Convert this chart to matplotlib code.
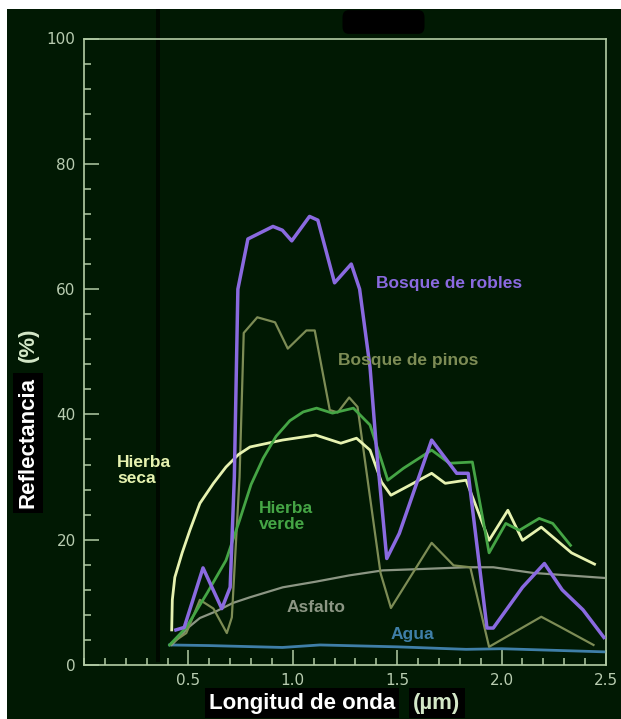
import matplotlib
matplotlib.use("Agg")
import matplotlib.pyplot as plt
from matplotlib.patches import Rectangle, FancyBboxPatch
import matplotlib.transforms as mtransforms
from matplotlib.ticker import MultipleLocator, FixedLocator

# ---------------- data ----------------
robles_x = [0.44, 0.48, 0.57, 0.66, 0.70, 0.72, 0.737, 0.785, 0.905, 0.95, 0.995, 1.08, 1.12,
            1.20, 1.28, 1.32, 1.37, 1.40, 1.45, 1.51, 1.665, 1.785, 1.84, 1.93, 1.96, 2.10,
            2.205, 2.29, 2.39, 2.49]
robles_y = [5.6, 6.0, 15.5, 9.0, 12.4, 30.0, 60.0, 68.0, 70.0, 69.4, 67.7, 71.6, 71.0,
            61.0, 64.0, 60.0, 47.5, 34.8, 17.0, 21.0, 35.9, 30.6, 30.6, 5.9, 5.9, 12.4,
            16.2, 12.0, 8.8, 4.4]

pinos_x = [0.42, 0.49, 0.555, 0.62, 0.684, 0.708, 0.745, 0.765, 0.83, 0.915, 0.976, 1.065, 1.105,
           1.177, 1.215, 1.27, 1.31, 1.42, 1.47, 1.665, 1.77, 1.85, 1.94, 2.19, 2.28, 2.44]
pinos_y = [3.5, 5.1, 10.4, 9.0, 5.1, 7.6, 30.0, 53.0, 55.5, 54.7, 50.5, 53.4, 53.4,
           40.7, 40.3, 42.7, 41.2, 14.7, 9.1, 19.5, 15.9, 15.6, 2.9, 7.7, 6.1, 3.2]

verde_x = [0.41, 0.49, 0.59, 0.68, 0.745, 0.80, 0.858, 0.92, 0.986, 1.05, 1.114, 1.19, 1.29,
           1.37, 1.455, 1.53, 1.665, 1.75, 1.86, 1.94, 2.02, 2.085, 2.18, 2.245, 2.33]
verde_y = [3.2, 6.0, 11.5, 16.7, 23.1, 28.8, 33.0, 36.5, 39.0, 40.4, 41.0, 40.2, 41.0,
           38.3, 29.5, 31.4, 34.3, 32.2, 32.4, 17.9, 22.6, 21.5, 23.4, 22.6, 19.1]

seca_x = [0.42, 0.423, 0.435, 0.47, 0.507, 0.555, 0.62, 0.68, 0.74, 0.795, 0.95, 1.11, 1.23,
          1.305, 1.37, 1.425, 1.47, 1.56, 1.665, 1.73, 1.83, 1.94, 2.03, 2.10, 2.19, 2.335,
          2.445]
seca_y = [5.6, 10.4, 14.0, 17.9, 21.5, 25.8, 29.0, 31.6, 33.6, 34.8, 35.9, 36.7, 35.4,
          36.2, 34.3, 29.2, 27.1, 28.7, 30.6, 29.0, 29.5, 19.9, 24.7, 19.9, 22.0, 17.9,
          16.1]

asfalto_x = [0.42, 0.50, 0.555, 0.635, 0.713, 0.794, 0.952, 1.11, 1.27, 1.43, 1.60, 1.83, 1.96,
             2.15, 2.49]
asfalto_y = [3.2, 6.0, 7.5, 8.6, 9.9, 10.8, 12.4, 13.3, 14.3, 15.1, 15.3, 15.6, 15.6,
             14.7, 13.9]

agua_x = [0.41, 0.60, 0.95, 1.13, 1.50, 1.83, 2.00, 2.49]
agua_y = [3.2, 3.1, 2.8, 3.2, 2.9, 2.5, 2.6, 2.1]

x_ticks = [0.5, 1.0, 1.5, 2.0, 2.5]
x_ticklabels = ["0.5", "1.0", "1.5", "2.0", "2.5"]
y_ticks = [0, 20, 40, 60, 80, 100]
y_ticklabels = ["0", "20", "40", "60", "80", "100"]

# ---------------- style ----------------
BG = "#011903"
FRAME = "#b3cca6"
TICKC = "#b8ccb0"
C_ROBLES = "#8a6ae0"
C_PINOS = "#7d8c55"
C_VERDE = "#45a545"
C_SECA = "#e6f2b0"
C_ASF = "#8c9684"
C_AGUA = "#3f7fa8"

W, H = 621, 719
fig = plt.figure(figsize=(W / 100, H / 100), dpi=100, facecolor=BG)

# white margins at top and left
fig.patches.append(Rectangle((0, 1 - 9 / H), 1, 9 / H, transform=fig.transFigure,
                             facecolor="white", edgecolor="none", zorder=0))
fig.patches.append(Rectangle((0, 0), 7 / W, 1, transform=fig.transFigure,
                             facecolor="white", edgecolor="none", zorder=0))
# black rounded blob at top
fig.patches.append(FancyBboxPatch((345 / W, 1 - 31 / H), 77 / W, 18 / H,
                                  boxstyle="round,pad=0.004,rounding_size=0.01",
                                  transform=fig.transFigure, facecolor="black",
                                  edgecolor="none", zorder=0.5))

x0, x1 = 84, 606
y0, y1 = 665, 38.5
ax = fig.add_axes([x0 / W, 1 - y0 / H, (x1 - x0) / W, (y0 - y1) / H])
ax.set_facecolor(BG)
ax.set_xlim(0, 2.5)
ax.set_ylim(0, 100)

# dark vertical band artifact
trans = mtransforms.blended_transform_factory(ax.transData, fig.transFigure)
ax.plot([0.354, 0.354], [1 - 662 / H, 1 - 9 / H], transform=trans, clip_on=False,
        color="#000900", lw=2.8, zorder=0.5, solid_capstyle="butt")

ax.plot(agua_x, agua_y, color=C_AGUA, lw=2.0, zorder=3)
ax.plot(asfalto_x, asfalto_y, color=C_ASF, lw=1.6, zorder=3)
ax.plot(pinos_x, pinos_y, color=C_PINOS, lw=1.6, zorder=3)
ax.plot(seca_x, seca_y, color=C_SECA, lw=2.0, zorder=4)
ax.plot(verde_x, verde_y, color=C_VERDE, lw=2.0, zorder=4)
ax.plot(robles_x, robles_y, color=C_ROBLES, lw=2.5, zorder=5)

for s in ax.spines.values():
    s.set_color(FRAME)
    s.set_linewidth(1.2)

ax.xaxis.set_major_locator(FixedLocator(x_ticks))
ax.set_xticklabels(x_ticklabels)
ax.xaxis.set_minor_locator(MultipleLocator(0.1))
ax.yaxis.set_major_locator(FixedLocator(y_ticks))
ax.set_yticklabels(y_ticklabels)
ax.yaxis.set_minor_locator(MultipleLocator(4))
ax.tick_params(which="both", direction="in", color=FRAME, width=1.1,
               top=False, right=False)
ax.tick_params(which="major", length=10.5, labelsize=11, labelcolor=TICKC, pad=6)
ax.tick_params(which="minor", length=5)
for lab in ax.get_xticklabels() + ax.get_yticklabels():
    lab.set_family("DejaVu Sans")

lab_font = dict(family="Liberation Sans", weight="bold", fontsize=12.5, zorder=6)
ax.text(1.40, 60.9, "Bosque de robles", color=C_ROBLES, va="center", ha="left", **lab_font)
ax.text(1.215, 48.6, "Bosque de pinos", color=C_PINOS, va="center", ha="left", **lab_font)
ax.text(0.158, 31.0, "Hierba\nseca", color=C_SECA, va="center", ha="left",
        linespacing=1.1, **lab_font)
ax.text(0.837, 23.7, "Hierba\nverde", color=C_VERDE, va="center", ha="left",
        linespacing=1.1, **lab_font)
ax.text(0.971, 9.25, "Asfalto", color=C_ASF, va="center", ha="left", **lab_font)
ax.text(1.469, 4.8, "Agua", color=C_AGUA, va="center", ha="left", **lab_font)

axis_font = dict(family="Liberation Sans", weight="bold", fontsize=16)
fig.text(302 / W, 1 - 703 / H, "Longitud de onda", color="white", ha="center", va="center",
         bbox=dict(facecolor="black", edgecolor="none", pad=3), **axis_font)
fig.text(437 / W, 1 - 703 / H, "(µm)", color="#d4e8c8", ha="center", va="center",
         bbox=dict(facecolor="black", edgecolor="none", pad=3), **axis_font)
fig.text(28 / W, 1 - 443 / H, "Reflectancia", color="white", ha="center", va="center",
         rotation=90, bbox=dict(facecolor="black", edgecolor="none", pad=3), **axis_font)
fig.text(28 / W, 1 - 345 / H, "(%)", color="#d4e8c8", ha="center", va="center",
         rotation=90, **axis_font)

fig.savefig("out.png", dpi=100, facecolor=BG)
